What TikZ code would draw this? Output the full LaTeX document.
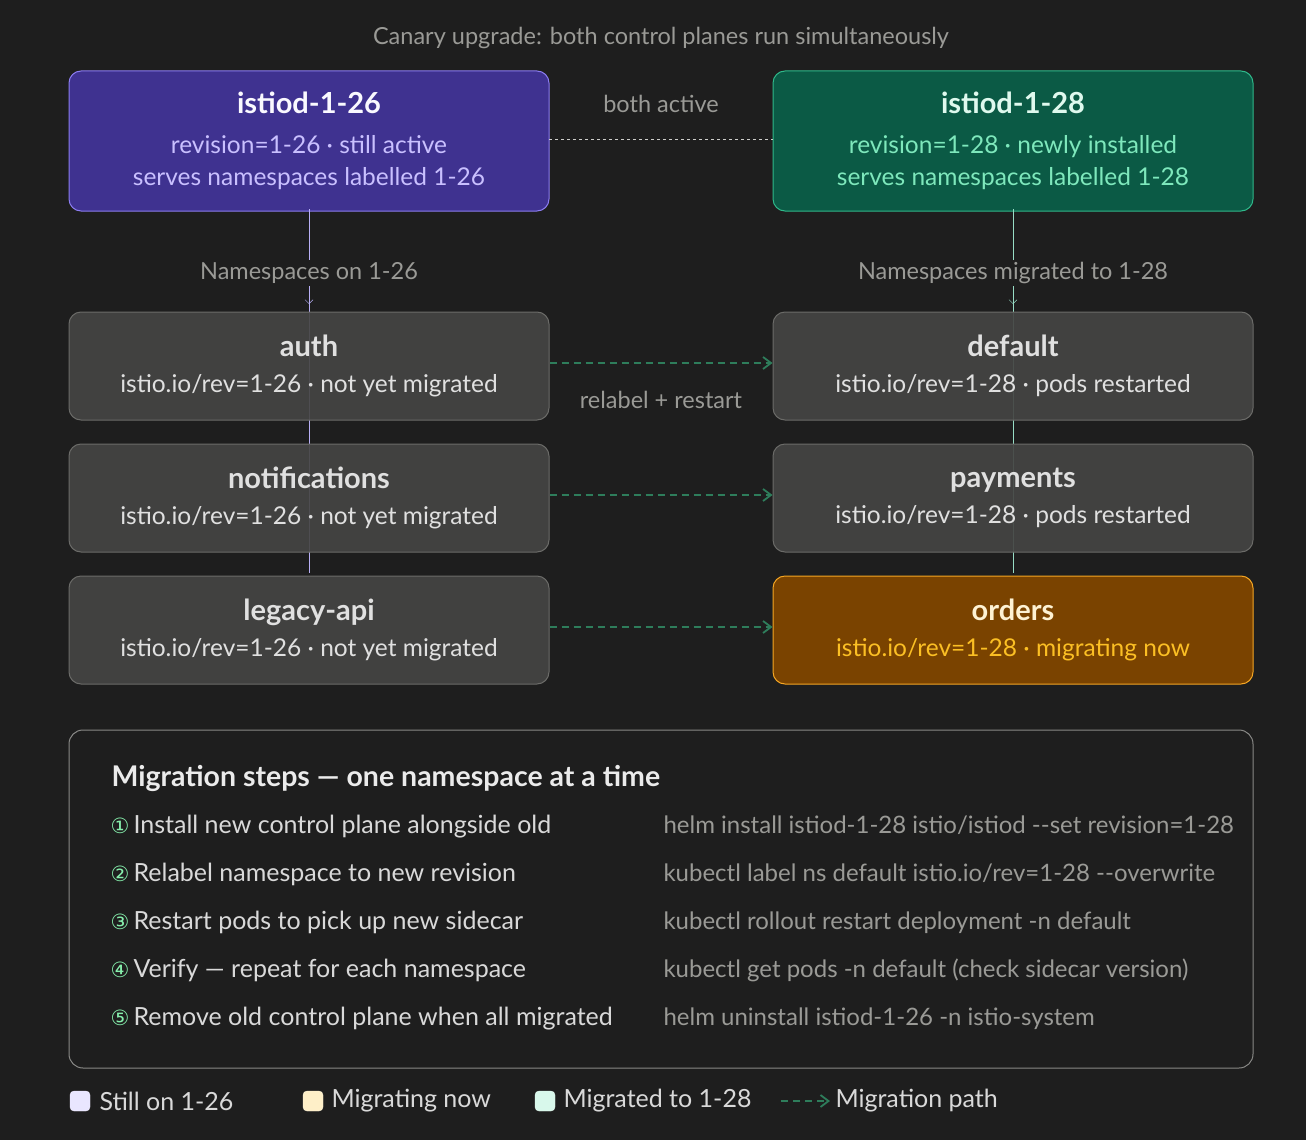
\documentclass[tikz,border=0pt]{standalone}
\usepackage{fontspec}
\setmainfont{Lato}
\newfontfamily\symfont{DejaVu Sans}
\usetikzlibrary{arrows.meta,positioning}
\definecolor{bgc}{HTML}{1E1E1E}
\definecolor{purfill}{HTML}{3F3290}
\definecolor{purline}{HTML}{8B7CF0}
\definecolor{purtext}{HTML}{C9C0FF}
\definecolor{grnfill}{HTML}{0B5A45}
\definecolor{grnline}{HTML}{2FB88A}
\definecolor{grntext}{HTML}{7EE8BC}
\definecolor{grayfill}{HTML}{454543}
\definecolor{grayline}{HTML}{6B6B68}
\definecolor{orafill}{HTML}{7A4300}
\definecolor{oraline}{HTML}{F5A623}
\definecolor{oratext}{HTML}{FBBF24}
\definecolor{arrowc}{HTML}{2E7D5B}
\definecolor{mutedc}{HTML}{9A9A96}
\definecolor{stepc}{HTML}{86EFAC}
\tikzset{
  nsbox/.style={draw=grayline, fill=grayfill, fill opacity=0.92, text opacity=1,
    rounded corners=12pt, line width=1pt,
    minimum width=480pt, minimum height=108pt, align=center, text=white!88!black,
    font=\fontsize{24.5}{36}\selectfont},
  cpbox/.style={nsbox, fill opacity=1, minimum height=140pt, font=\fontsize{24.5}{32}\selectfont},
  migpath/.style={arrowc, dashed, dash pattern=on 7pt off 5pt, line width=1.8pt,
    -{Straight Barb[length=8pt,width=12pt]}},
  muted/.style={text=mutedc, font=\fontsize{23.5}{26}\selectfont},
  stepline/.style={anchor=base west, text=white!85!black, font=\fontsize{25}{26}\selectfont},
  cmdline/.style={anchor=base west, text=mutedc, font=\fontsize{24}{26}\selectfont},
  legkey/.style={draw=#1!70!white, fill=#1, rounded corners=4pt, minimum size=20pt, inner sep=0pt}
}
\begin{document}
\begin{tikzpicture}[x=1pt,y=-1pt]
\fill[bgc] (0,0) rectangle (1306,1140);
\useasboundingbox (0,0) rectangle (1306,1140);
\node[muted] (cap) at (661,38) {Canary upgrade: both control planes run simultaneously};
% control planes
\node[cpbox, draw=purline, fill=purfill, text=purtext] (old) at (309,141)
  {{\bfseries\fontsize{29}{42}\selectfont\color{white!90!purtext}istiod-1-26}\\[8pt]revision=1-26 · still active\\serves namespaces labelled 1-26};
\node[cpbox, draw=grnline, fill=grnfill, text=grntext] (new) at (1013,141)
  {{\bfseries\fontsize{29}{42}\selectfont\color{white!75!grntext}istiod-1-28}\\[8pt]revision=1-28 · newly installed\\serves namespaces labelled 1-28};
\draw[mutedc!50, dashed, line width=1pt] (549,139) -- (773,139);
\node[muted] (both) at (661,104) {both active};
% spine lines behind the boxes
\draw[purline!60, line width=1pt] (309,209) -- (309,573);
\draw[grnline!50, line width=1pt] (1013,209) -- (1013,573);
\draw[purline!60, -{Straight Barb[length=4pt]}] (309,290) -- (309,304);
\draw[grnline!50, -{Straight Barb[length=4pt]}] (1013,290) -- (1013,304);
\node[muted, fill=bgc, inner sep=2pt] (lblold) at (309,273) {Namespaces on 1-26};
\node[muted, fill=bgc, inner sep=2pt] (lblnew) at (1013,273) {Namespaces migrated to 1-28};
% namespaces
\node[nsbox] (auth) at (309,366) {{\bfseries\fontsize{29}{36}\selectfont auth}\\istio.io/rev=1-26 · not yet migrated};
\node[nsbox] (notif) at (309,498) {{\bfseries\fontsize{29}{36}\selectfont notifications}\\istio.io/rev=1-26 · not yet migrated};
\node[nsbox] (legacy) at (309,630) {{\bfseries\fontsize{29}{36}\selectfont legacy-api}\\istio.io/rev=1-26 · not yet migrated};
\node[nsbox] (default) at (1013,366) {{\bfseries\fontsize{29}{36}\selectfont default}\\istio.io/rev=1-28 · pods restarted};
\node[nsbox] (payments) at (1013,498) {{\bfseries\fontsize{29}{36}\selectfont payments}\\istio.io/rev=1-28 · pods restarted};
\node[nsbox, fill opacity=1, draw=oraline, fill=orafill, text=oratext] (orders) at (1013,630) {{\bfseries\fontsize{29}{36}\selectfont\color{white!80!oratext}orders}\\istio.io/rev=1-28 · migrating now};
\draw[migpath] (auth.east |- 0,363) -- (default.west |- 0,363);
\draw[migpath] (notif.east |- 0,495) -- (payments.west |- 0,495);
\draw[migpath] (legacy.east |- 0,627) -- (orders.west |- 0,627);
\node[muted] (relabel) at (661,400) {relabel + restart};
% steps panel
\draw[grayline!80, rounded corners=14pt, line width=1pt] (69,730) rectangle (1253,1068);
\node[anchor=base west, text=white!92!black, font=\bfseries\fontsize{28.5}{30}\selectfont] (steps) at (108,786) {Migration steps — one namespace at a time};
\foreach \n/\y/\txt/\cmd in {
  1/833/Install new control plane alongside old/{helm install istiod-1-28 istio/istiod -{}-set revision=1-28},
  2/881/Relabel namespace to new revision/{kubectl label ns default istio.io/rev=1-28 -{}-overwrite},
  3/929/Restart pods to pick up new sidecar/{kubectl rollout restart deployment -n default},
  4/977/Verify — repeat for each namespace/{kubectl get pods -n default (check sidecar version)},
  5/1025/Remove old control plane when all migrated/{helm uninstall istiod-1-26 -n istio-system}}{
  \node[stepline] (step\n) at (107,\y) {{\symfont\color{stepc}\fontsize{21}{22}\selectfont\ifcase\n\or①\or②\or③\or④\or⑤\fi}\,\txt};
  \node[cmdline] (cmd\n) at (660,\y) {\cmd};
}
% legend
\node[legkey=purtext!40!white] (k1) at (80,1101) {};
\node[stepline, anchor=west] (l1) at (96,1101) {Still on 1-26};
\node[legkey=oratext!25!white] (k2) at (313,1101) {};
\node[stepline, anchor=west] (l2) at (328,1101) {Migrating now};
\node[legkey=grntext!30!white] (k3) at (545,1101) {};
\node[stepline, anchor=west] (l3) at (560,1101) {Migrated to 1-28};
\coordinate (ka) at (781,1101);
\coordinate (kb) at (830,1101);
\draw[migpath] (ka) -- (kb);
\node[stepline, anchor=west] (l4) at (832,1101) {Migration path};
\end{tikzpicture}
\end{document}
